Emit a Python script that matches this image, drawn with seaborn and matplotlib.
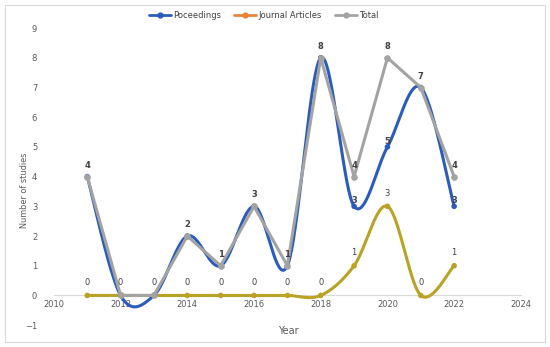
import numpy as np
import pandas as pd
import matplotlib
matplotlib.use("Agg")
import matplotlib.pyplot as plt
from matplotlib.lines import Line2D
from matplotlib.patches import Rectangle
import seaborn as sns

years = [2011, 2012, 2013, 2014, 2015, 2016, 2017, 2018, 2019, 2020, 2021, 2022]
proceedings = [4, 0, 0, 2, 1, 3, 1, 8, 3, 5, 7, 3]
journal_articles = [0, 0, 0, 0, 0, 0, 0, 0, 1, 3, 0, 1]
total = [4, 0, 0, 2, 1, 3, 1, 8, 4, 8, 7, 4]

BLUE = "#2a5cbd"
OLIVE = "#b9a224"
ORANGE = "#f0823a"
GRAY = "#a3a3a3"
LABEL = "#404040"


def smooth(xs, ys, n=40):
    # Excel-style smoothed line: Catmull-Rom segments drawn as cubic Beziers
    x = np.asarray(xs, float)
    y = np.asarray(ys, float)
    px = np.concatenate([[x[0]], x, [x[-1]]])
    py = np.concatenate([[y[0]], y, [y[-1]]])
    t = np.linspace(0, 1, n)[:, None]
    out_x, out_y = [], []
    for i in range(1, len(px) - 2):
        p0 = np.array([px[i], py[i]])
        p3 = np.array([px[i + 1], py[i + 1]])
        c1 = p0 + (np.array([px[i + 1], py[i + 1]]) - np.array([px[i - 1], py[i - 1]])) / 6
        c2 = p3 - (np.array([px[i + 2], py[i + 2]]) - np.array([px[i], py[i]])) / 6
        b = ((1 - t) ** 3) * p0 + 3 * ((1 - t) ** 2) * t * c1 + 3 * (1 - t) * t ** 2 * c2 + t ** 3 * p3
        out_x.extend(b[:, 0])
        out_y.extend(b[:, 1])
    return pd.DataFrame({"x": out_x, "y": out_y})


sns.set_theme(style="white")
plt.rcParams["font.family"] = ["DejaVu Sans"]

fig = plt.figure(figsize=(5.5, 3.47), dpi=100)
ax = fig.add_axes([0.098, 0.063, 0.849, 0.856])

df = pd.DataFrame({"year": years, "proc": proceedings, "jour": journal_articles, "total": total})

# smoothed series
sp = smooth(years, proceedings)
sj = smooth(years, journal_articles)
sns.lineplot(data=sp, x="x", y="y", ax=ax, color=BLUE, lw=2.2, sort=False, zorder=3)
sns.lineplot(data=sj, x="x", y="y", ax=ax, color=OLIVE, lw=2.2, sort=False, zorder=3)
sns.scatterplot(data=df, x="year", y="proc", ax=ax, color=BLUE, s=16, edgecolor="none", zorder=4)
sns.scatterplot(data=df, x="year", y="jour", ax=ax, color=OLIVE, s=16, edgecolor="none", zorder=4)

# straight total line
sns.lineplot(data=df, x="year", y="total", ax=ax, color=GRAY, lw=2.2, marker="o",
             markersize=4, markeredgecolor=GRAY, zorder=5)

# data labels (coinciding labels are drawn once, as in the reference)
for xv, yv in zip(years, journal_articles):
    ax.annotate(str(yv), (xv, yv), xytext=(0, 6), textcoords="offset points",
                ha="center", va="bottom", fontsize=6, color=LABEL, zorder=6)
for xv, yv, tv in zip(years, proceedings, total):
    if yv != tv:
        ax.annotate(str(yv), (xv, yv), xytext=(0, 1), textcoords="offset points",
                    ha="center", va="bottom", fontsize=6, color=LABEL, fontweight="bold", zorder=6)
for xv, yv, jv in zip(years, total, journal_articles):
    if yv != jv:
        ax.annotate(str(yv), (xv, yv), xytext=(0, 5), textcoords="offset points",
                    ha="center", va="bottom", fontsize=6, color=LABEL, fontweight="bold", zorder=6)

ax.set_xlim(2010, 2024)
ax.set_ylim(-1, 9)
ax.set_xticks(range(2010, 2025, 2))
ax.set_yticks(range(-1, 10))
ax.tick_params(axis="both", labelsize=6, colors="#595959", length=0)
ax.tick_params(axis="y", pad=12)
ax.tick_params(axis="x", pad=3)
for s in ["top", "right", "left"]:
    ax.spines[s].set_visible(False)
ax.spines["bottom"].set_position(("data", 0))
ax.spines["bottom"].set_color("#d9d9d9")
ax.spines["bottom"].set_linewidth(0.8)
ax.set_xlabel("")
ax.set_ylabel("")
ax.grid(False)

fig.text(288 / 550, 1 - 331 / 347, "Year", ha="center", va="center", fontsize=7, color="#595959")
fig.text(25 / 550, 1 - 190 / 347, "Number of studies", ha="center", va="center",
         rotation=90, fontsize=6.5, color="#595959", fontstretch="condensed")

handles = [
    Line2D([], [], color=BLUE, lw=2, marker="o", markersize=3.5),
    Line2D([], [], color=ORANGE, lw=2, marker="o", markersize=3.5),
    Line2D([], [], color=GRAY, lw=2, marker="o", markersize=3.5),
]
fig.legend(handles, ["Poceedings", "Journal Articles", "Total"], loc="center",
           bbox_to_anchor=(0.48, 1 - 15 / 347), ncol=3, frameon=False, fontsize=6,
           handlelength=2.6, columnspacing=1.6, handletextpad=0.3, labelcolor="#404040")

fig.patches.append(Rectangle((5 / 550, 5 / 347), 540 / 550, 337 / 347, transform=fig.transFigure,
                             fill=False, edgecolor="#d9d9d9", lw=0.8))

fig.savefig("out.png", dpi=100)
